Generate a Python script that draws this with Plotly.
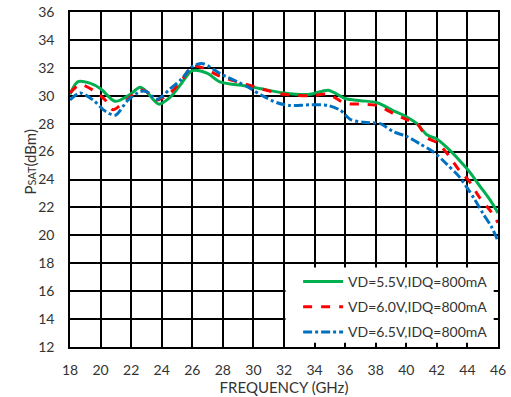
import plotly.graph_objects as go

# Saturated output power vs frequency for three drain-voltage settings
freq_55 = [18, 18.5, 19.3, 20, 20.95, 21.8, 22.6, 23.0, 23.8, 24.56, 25.3, 26.0, 27.0, 27.8,
           29.6, 30.5, 32.0, 33.7, 34.9, 36.0, 37.0, 38.1, 39.2, 40.0, 40.7, 41.35, 42.0,
           42.65, 43.5, 44.1, 44.8, 45.5, 46.0]
psat_55 = [30.1, 31.0, 30.9, 30.5, 29.6, 30.0, 30.6, 30.3, 29.4, 29.9, 30.9, 31.8, 31.6, 31.0,
           30.7, 30.5, 30.2, 30.1, 30.4, 29.8, 29.65, 29.5, 28.9, 28.5, 28.0, 27.2, 26.9,
           26.3, 25.35, 24.6, 23.55, 22.5, 21.6]

freq_60 = [18, 18.65, 19.5, 20.3, 20.8, 21.7, 22.6, 23.0, 23.7, 24.56, 25.3, 26.0, 26.7, 27.8,
           29.6, 30.5, 32.0, 33.7, 34.9, 36.0, 37.0, 38.1, 39.2, 40.0, 40.7, 41.35, 42.0,
           42.65, 43.5, 44.1, 44.8, 45.5, 46.0]
psat_60 = [30.2, 30.8, 30.4, 29.7, 29.0, 29.7, 30.4, 30.3, 29.7, 30.2, 31.1, 32.1, 32.0, 31.4,
           30.8, 30.5, 30.1, 30.0, 30.1, 29.45, 29.4, 29.3, 28.7, 28.3, 28.0, 27.0, 26.65,
           25.9, 24.6, 23.9, 22.7, 21.75, 20.9]

freq_65 = [18, 18.65, 19.5, 20.3, 20.95, 21.8, 22.6, 23.0, 23.7, 24.56, 25.3, 26.0, 26.7, 27.8,
           29.6, 30.5, 31.55, 32.4, 33.7, 34.9, 35.7, 36.35, 37.2, 38.3, 39.2, 40.0, 40.9,
           41.8, 42.65, 43.5, 44.4, 45.0, 45.6, 46.0]
psat_65 = [29.7, 30.2, 29.7, 28.9, 28.6, 29.7, 30.3, 30.3, 29.75, 30.5, 31.2, 32.1, 32.3, 31.6,
           30.65, 30.05, 29.5, 29.3, 29.35, 29.3, 28.95, 28.3, 28.1, 28.0, 27.4, 27.1, 26.55,
           25.95, 25.1, 24.15, 22.7, 21.6, 20.55, 19.6]

series = [
    ("VD=5.5V,IDQ=800mA", freq_55, psat_55, "#00B050", "solid"),
    ("VD=6.0V,IDQ=800mA", freq_60, psat_60, "#FF0000", "dash"),
    ("VD=6.5V,IDQ=800mA", freq_65, psat_65, "#0070C0", "dashdot"),
]

x_ticks = list(range(18, 47, 2))
y_ticks = list(range(12, 37, 2))

FONT = "Lato"
TEXT = "#333333"

fig = go.Figure()
for i, (name, fx, py, color, dash) in enumerate(series):
    fig.add_trace(go.Scatter(
        x=fx, y=py, name=name, mode="lines", legendgroup=f"g{i}",
        line=dict(color=color, width=3, dash=dash, shape="spline", smoothing=0.8),
    ))

axis_common = dict(
    showgrid=True, gridcolor="#000000", gridwidth=1.6,
    showline=True, linecolor="#000000", linewidth=1.6, mirror=True,
    zeroline=False, ticks="", automargin=False,
    tickfont=dict(family=FONT, size=14, color=TEXT),
)

fig.update_xaxes(range=[18, 46], tickvals=x_ticks, ticktext=[str(v) for v in x_ticks],
                 ticklabelstandoff=9,
                 title=dict(text="FREQUENCY (GHz)", font=dict(family=FONT, size=15, color=TEXT),
                            standoff=3),
                 **axis_common)
fig.update_yaxes(range=[12, 36], tickvals=y_ticks, ticktext=[str(v) for v in y_ticks],
                 ticklabelstandoff=11,
                 **axis_common)

fig.add_annotation(
    text="P<span style='font-size:11px'>SAT</span>(dBm)",
    xref="paper", yref="paper", x=-0.118, y=0.555, textangle=-90,
    showarrow=False, font=dict(family=FONT, size=15, color=TEXT),
)

# white backdrop behind the legend, leaving short grid stubs at its edges
fig.add_shape(type="rect", xref="x", yref="y", x0=32.1, x1=45.72, y0=12.3, y1=17.7,
              fillcolor="white", line=dict(width=0), layer="above")

fig.update_layout(
    width=511, height=397,
    margin=dict(l=70, r=13, t=12, b=50),
    paper_bgcolor="white", plot_bgcolor="white",
    legend=dict(
        x=0.533, y=0.242, xanchor="left", yanchor="top",
        bgcolor="rgba(0,0,0,0)", borderwidth=0,
        font=dict(family=FONT, size=14, color=TEXT),
        itemwidth=40, tracegroupgap=4,
    ),
)

fig.write_html("out.html")
